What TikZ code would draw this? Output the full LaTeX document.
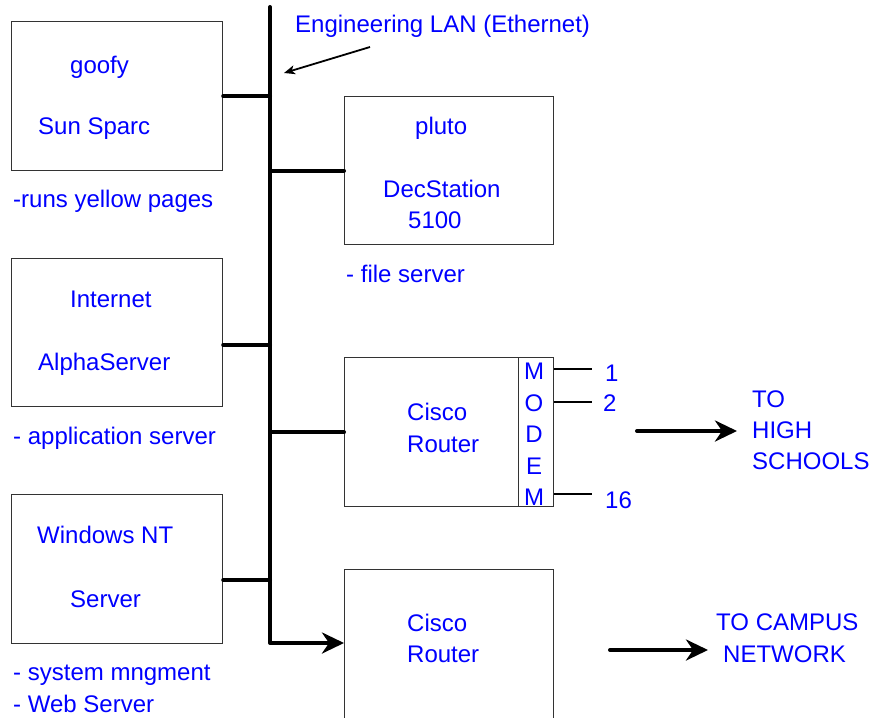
\documentclass[tikz,border=0pt]{standalone}
\usepackage{fontspec}
\setmainfont{Liberation Sans}
\usetikzlibrary{arrows.meta}
\definecolor{lanblue}{RGB}{0,0,255}
\tikzset{
  host/.style={draw=black!80,line width=1.2pt,inner sep=0pt,anchor=north west,
    minimum width=211pt,minimum height=149pt},
  divider/.style={draw=black!80,line width=1.2pt},
  lbl/.style={text=lanblue,font=\fontsize{24}{28}\selectfont,inner sep=0pt,anchor=base west},
  tap/.style={line width=4pt,line cap=round},
  port/.style={line width=2pt},
  flow/.style={line width=4pt,line cap=round,line join=round,
    -{Stealth[length=22pt,width=21pt,inset=7pt]}},
  note/.style={line width=1.8pt,-{Stealth[length=11pt,width=9pt,inset=3pt]}}
}

\begin{document}
\begin{tikzpicture}[x=1pt,y=-1pt]
\clip (0,0) rectangle (869,717);

% hosts on the left
\node[host] (goofy) at (11,21) {};
\node[host,minimum height=148pt] (inet) at (11,258) {};
\node[host] (winnt) at (11,494) {};
% hosts on the right
\node[host,minimum width=209pt,minimum height=148pt] (pluto) at (344,96) {};
\node[host,minimum width=209pt] (cisco1) at (344,357) {};
\node[host,minimum width=209pt,minimum height=170pt] (cisco2) at (344,569) {};

% the LAN bus
\coordinate (bustop) at (270,7);
\coordinate (buscorner) at (270,643);
\draw[flow] (bustop) -- (buscorner) -- (buscorner -| cisco2.west);

\coordinate (inettap) at (270,345);
\coordinate (winnttap) at (270,580);
\draw[tap] (goofy.east) -- (goofy.east -| bustop);
\draw[tap] (inettap -| inet.east) -- (inettap);
\draw[tap] (winnttap -| winnt.east) -- (winnttap);
\draw[tap] (pluto.west) -- (pluto.west -| bustop);
\draw[tap] (cisco1.west) -- (cisco1.west -| bustop);

% bus label
\node[lbl] (lanname) at (295,33) {Engineering LAN (Ethernet)};
\coordinate (lanfrom) at (370,47);
\coordinate (lanto) at (284,73);
\draw[note] (lanfrom) -- (lanto);

% texts of the hosts
\node[lbl] (goofyname) at (70,73) {goofy};
\node[lbl] (goofytype) at (38,134) {Sun Sparc};
\node[lbl] (goofyrole) at (13,207) {-runs yellow pages};

\node[lbl] (inetname) at (70,307) {Internet};
\node[lbl] (inettype) at (38,370) {AlphaServer};
\node[lbl] (inetrole) at (13,444) {- application server};

\node[lbl] (winntname) at (37,543) {Windows NT};
\node[lbl] (winnttype) at (70,607) {Server};
\node[lbl] (winntrole) at (13,680) {- system mngment};
\node[lbl] (winntweb) at (13,712) {- Web Server};

\node[lbl] (plutoname) at (415,134) {pluto};
\node[lbl] (plutotype) at (383,197) {DecStation};
\node[lbl] (plutomodel) at (408,228) {5100};
\node[lbl] (plutorole) at (346,282) {- file server};

\node[lbl] (ciscoaname) at (407,420) {Cisco};
\node[lbl] (ciscoatype) at (407,452) {Router};
\node[lbl] (ciscobname) at (407,631) {Cisco};
\node[lbl] (ciscobtype) at (407,662) {Router};

% modem bank of the first router
\draw[divider] ([xshift=-36pt]cisco1.north east) -- ([xshift=-36pt]cisco1.south east);
\foreach \ch [count=\i] in {M,O,D,E,M}
  \node[lbl,anchor=base] (modem\i) at (534,348+31.5*\i) {\ch};

\coordinate (porta) at (592,369);
\coordinate (portb) at (592,402);
\coordinate (portc) at (592,494);
\draw[port] (porta -| cisco1.east) -- (porta);
\draw[port] (portb -| cisco1.east) -- (portb);
\draw[port] (portc -| cisco1.east) -- (portc);
\node[lbl] (portaname) at (605,381) {1};
\node[lbl] (portbname) at (603,411) {2};
\node[lbl] (portcname) at (605,508) {16};

% outgoing links
\coordinate (hsfrom) at (637,431);
\coordinate (hsto) at (737,431);
\draw[flow] (hsfrom) -- (hsto);
\node[lbl] (hsa) at (752,407) {TO};
\node[lbl] (hsb) at (752,438) {HIGH};
\node[lbl] (hsc) at (752,469) {SCHOOLS};

\coordinate (campfrom) at (610,650);
\coordinate (campto) at (708,650);
\draw[flow] (campfrom) -- (campto);
\node[lbl] (campa) at (716,630) {TO CAMPUS};
\node[lbl] (campb) at (723,662) {NETWORK};
\end{tikzpicture}
\end{document}
